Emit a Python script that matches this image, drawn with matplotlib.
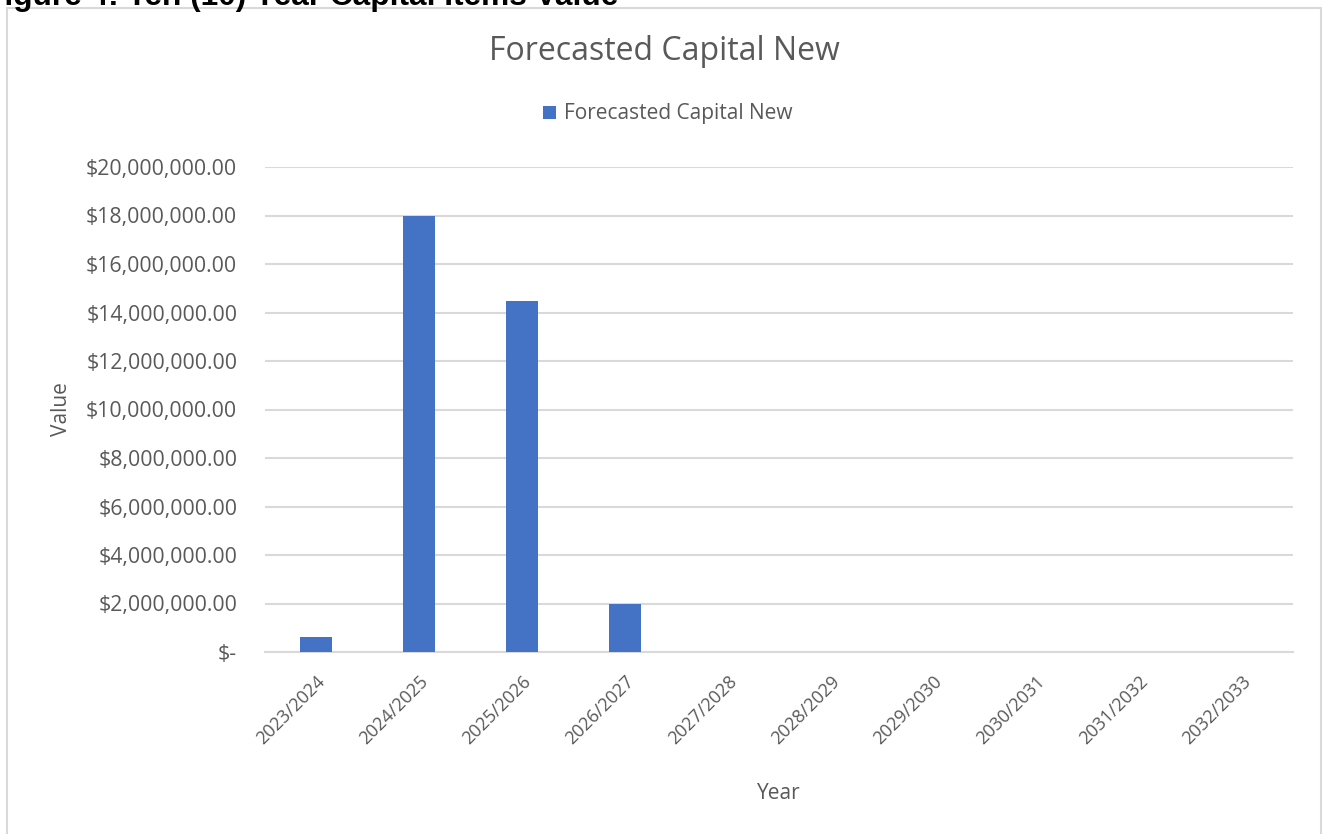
import matplotlib
matplotlib.use("Agg")
from matplotlib import pyplot as plt
from matplotlib.patches import Rectangle
from matplotlib.ticker import FuncFormatter
from matplotlib.transforms import ScaledTranslation

years = ["2023/2024", "2024/2025", "2025/2026", "2026/2027", "2027/2028",
         "2028/2029", "2029/2030", "2030/2031", "2031/2032", "2032/2033"]
capital_new = [620000, 18000000, 14470000, 2000000, 0, 0, 0, 0, 0, 0]
series_name = "Forecasted Capital New"

plt.rcParams['font.family'] = ['Open Sans', 'DejaVu Sans']
grey = "#595959"

fig = plt.figure(figsize=(13.24, 8.34), dpi=100)

# chart area border
fig.patches.append(Rectangle((7/1324, -0.1), 1314/1324, 1.1 - 8/834,
                             transform=fig.transFigure, fill=False,
                             edgecolor="#d9d9d9", linewidth=1.5))

# clipped document heading above the chart
fig.text(-15/1324, 1 - 5.5/834, "Figure 4: Ten (10) Year Capital Items Value",
         family="Liberation Sans", weight="bold", fontsize=22.8, color="black",
         ha="left", va="baseline")

ax = fig.add_axes([265/1324, 1 - 652/834, 1028/1324, 485/834])
x = range(len(years))
ax.bar(x, capital_new, width=0.31, color="#4472C4", label=series_name, zorder=3)

ax.set_xlim(-0.5, len(years) - 0.5)
ax.set_ylim(0, 20000000)
ax.set_yticks(range(0, 20000001, 2000000))

def money(v, pos):
    if v == 0:
        return "$-"
    return "${:,.2f}".format(v)

ax.yaxis.set_major_formatter(FuncFormatter(money))
ax.set_xticks(list(x))
ax.set_xticklabels(years, rotation=45, ha="right", rotation_mode="anchor")
shift = ScaledTranslation(6/100, 0, fig.dpi_scale_trans)
for lab in ax.get_xticklabels():
    lab.set_transform(lab.get_transform() + shift)

ax.grid(axis="y", color="#d9d9d9", linewidth=1.5, zorder=0)
for s in ["top", "right", "left"]:
    ax.spines[s].set_visible(False)
ax.spines["bottom"].set_color("#d9d9d9")
ax.spines["bottom"].set_linewidth(1.5)
ax.tick_params(axis="both", length=0, labelcolor=grey)
ax.tick_params(axis="y", labelsize=15.3, pad=20)
ax.tick_params(axis="x", labelsize=13, pad=15)

ax.set_xlabel("Year", fontsize=15, color=grey, labelpad=25)
ax.set_ylabel("Value", fontsize=15, color=grey, labelpad=10)

fig.text(664/1324, 1 - 52/834, series_name, fontsize=23, color=grey,
         ha="center", va="center")
fig.legend(loc="center", bbox_to_anchor=(668/1324, 1 - 114/834), frameon=False,
           fontsize=15, labelcolor=grey, handlelength=0.6, handleheight=0.6,
           handletextpad=0.4)

fig.savefig("out.png", dpi=100)
